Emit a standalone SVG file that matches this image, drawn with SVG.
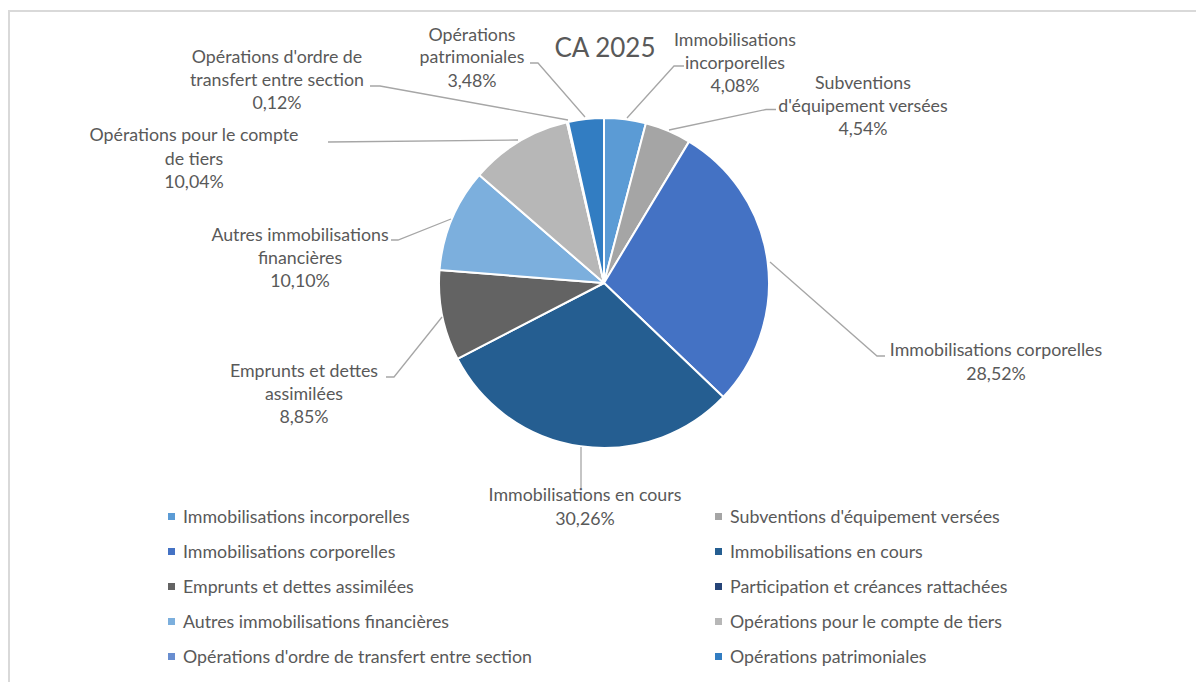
<svg xmlns="http://www.w3.org/2000/svg" width="1196" height="682" viewBox="0 0 1196 682">
<style>
.t{font-family:Lato,"Liberation Sans",sans-serif;font-size:17.8px;fill:#595959;text-anchor:middle}
.lg{font-family:Lato,"Liberation Sans",sans-serif;font-size:17.8px;fill:#595959}
.ttl{font-family:Lato,"Liberation Sans",sans-serif;font-size:26px;fill:#595959;text-anchor:middle}
.s{stroke:#fff;stroke-width:2;stroke-linejoin:round}
.ld{fill:none;stroke:#A6A6A6;stroke-width:1.3}
</style>
<rect x="0" y="0" width="1196" height="682" fill="#fff"/>
<rect x="9" y="11" width="1200" height="700" fill="#fff" stroke="#D9D9D9" stroke-width="2"/>
<text class="ttl" x="605" y="57">CA 2025</text>
<g id="pie">
<g id="s-incorporelles"><path class="s" fill="#5B9BD5" d="M604,283 L604,118 A165,165 0 0 1 645.84,123.39 Z"/></g>
<g id="s-subventions"><path class="s" fill="#A5A5A5" d="M604,283 L645.84,123.39 A165,165 0 0 1 689.06,141.61 Z"/></g>
<g id="s-corporelles"><path class="s" fill="#4472C4" d="M604,283 L689.06,141.61 A165,165 0 0 1 723.29,397 Z"/></g>
<g id="s-encours"><path class="s" fill="#255E91" d="M604,283 L723.29,397 A165,165 0 0 1 457.45,358.83 Z"/></g>
<g id="s-emprunts"><path class="s" fill="#636363" d="M604,283 L457.45,358.83 A165,165 0 0 1 439.51,270.05 Z"/></g>
<g id="s-autres"><path class="s" fill="#7CAFDD" d="M604,283 L439.51,270.05 A165,165 0 0 1 479.22,175.04 Z"/></g>
<g id="s-tiers"><path class="s" fill="#B7B7B7" d="M604,283 L479.22,175.04 A165,165 0 0 1 566.89,122.23 Z"/></g>
<g id="s-ordre"><path class="s" fill="#698ED0" d="M604,283 L566.89,122.23 A165,165 0 0 1 568.11,121.95 Z"/></g>
<g id="s-patrimoniales"><path class="s" fill="#327DC2" d="M604,283 L568.11,121.95 A165,165 0 0 1 604,118 Z"/></g>
</g>
<g id="connectors">
<polyline class="ld" points="627,118 674,66 684,66"/>
<polyline class="ld" points="669,130 766,109.5 776,109.5"/>
<polyline class="ld" points="770,262 877,356 885,356"/>
<polyline class="ld" points="581,447 581,488"/>
<polyline class="ld" points="442,317 394,377 386,377"/>
<polyline class="ld" points="451,219 398,240 391,240"/>
<polyline class="ld" points="518,140 328,142"/>
<polyline class="ld" points="568,120 380,86 370,86"/>
<polyline class="ld" points="585,117 538,63 530,63"/>
</g>
<g id="label-incorporelles"><text class="t" x="735" y="46">Immobilisations</text><text class="t" x="735" y="69">incorporelles</text><text class="t" x="735" y="92">4,08%</text></g>
<g id="label-subventions"><text class="t" x="863" y="89">Subventions</text><text class="t" x="863" y="112">d'équipement versées</text><text class="t" x="863" y="135">4,54%</text></g>
<g id="label-corporelles"><text class="t" x="996" y="356">Immobilisations corporelles</text><text class="t" x="996" y="380">28,52%</text></g>
<g id="label-encours"><text class="t" x="585" y="501">Immobilisations en cours</text><text class="t" x="585" y="525">30,26%</text></g>
<g id="label-emprunts"><text class="t" x="304" y="377">Emprunts et dettes</text><text class="t" x="304" y="400">assimilées</text><text class="t" x="304" y="423">8,85%</text></g>
<g id="label-autres"><text class="t" x="300" y="241">Autres immobilisations</text><text class="t" x="300" y="264">financières</text><text class="t" x="300" y="287">10,10%</text></g>
<g id="label-tiers"><text class="t" x="194" y="141">Opérations pour le compte</text><text class="t" x="194" y="165">de tiers</text><text class="t" x="194" y="188">10,04%</text></g>
<g id="label-ordre"><text class="t" x="277" y="63">Opérations d'ordre de</text><text class="t" x="277" y="86">transfert entre section</text><text class="t" x="277" y="109">0,12%</text></g>
<g id="label-patrimoniales"><text class="t" x="472" y="41">Opérations</text><text class="t" x="472" y="63">patrimoniales</text><text class="t" x="472" y="87">3,48%</text></g>
<g id="legend">
<rect x="168" y="513" width="7" height="7" fill="#5B9BD5"/><text class="lg" x="183" y="523">Immobilisations incorporelles</text>
<rect x="715" y="513" width="7" height="7" fill="#A5A5A5"/><text class="lg" x="730" y="523">Subventions d'équipement versées</text>
<rect x="168" y="548" width="7" height="7" fill="#4472C4"/><text class="lg" x="183" y="558">Immobilisations corporelles</text>
<rect x="715" y="548" width="7" height="7" fill="#255E91"/><text class="lg" x="730" y="558">Immobilisations en cours</text>
<rect x="168" y="583" width="7" height="7" fill="#636363"/><text class="lg" x="183" y="593">Emprunts et dettes assimilées</text>
<rect x="715" y="583" width="7" height="7" fill="#264478"/><text class="lg" x="730" y="593">Participation et créances rattachées</text>
<rect x="168" y="618" width="7" height="7" fill="#7CAFDD"/><text class="lg" x="183" y="628">Autres immobilisations financières</text>
<rect x="715" y="618" width="7" height="7" fill="#B7B7B7"/><text class="lg" x="730" y="628">Opérations pour le compte de tiers</text>
<rect x="168" y="653" width="7" height="7" fill="#698ED0"/><text class="lg" x="183" y="663">Opérations d'ordre de transfert entre section</text>
<rect x="715" y="653" width="7" height="7" fill="#327DC2"/><text class="lg" x="730" y="663">Opérations patrimoniales</text>
</g>
</svg>
